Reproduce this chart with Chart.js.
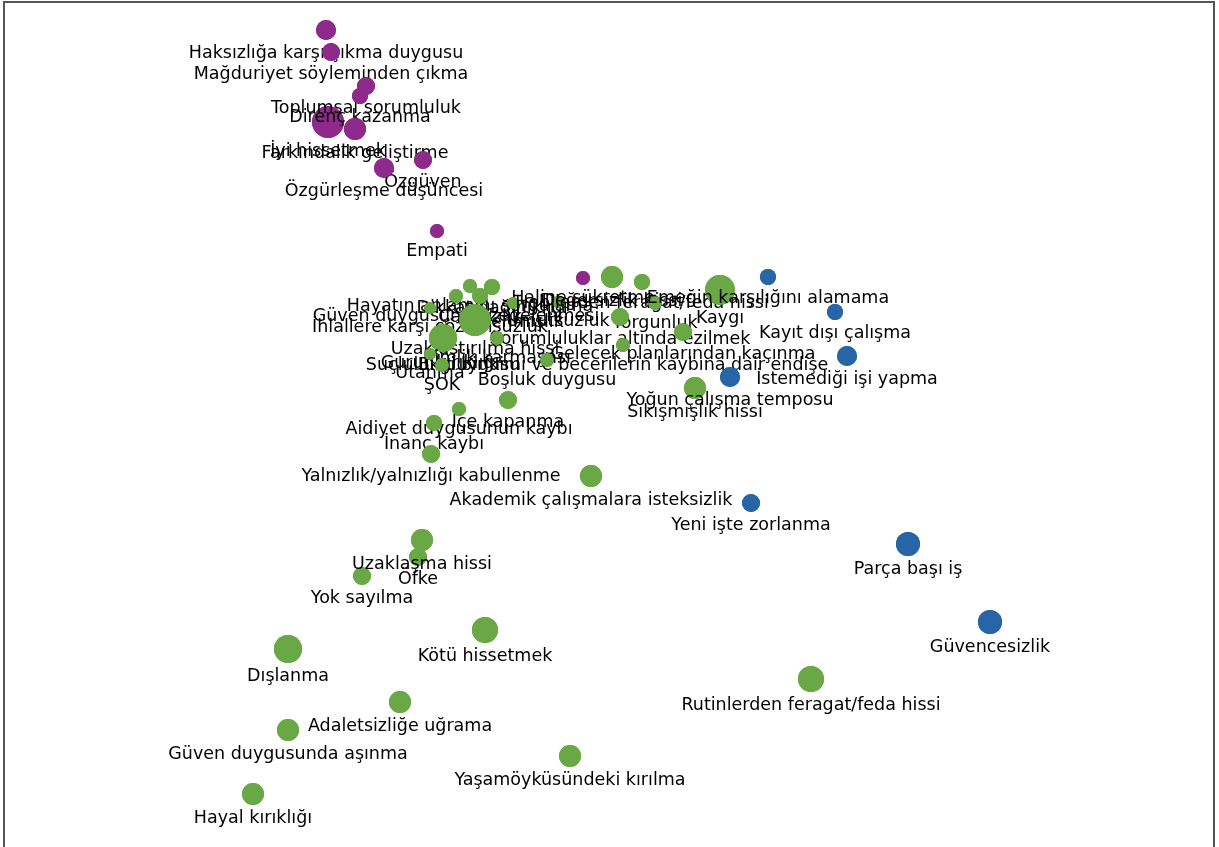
<!DOCTYPE html>
<html>
<head>
<meta charset="utf-8">
<script src="https://cdn.jsdelivr.net/npm/chart.js@4/dist/chart.umd.min.js"></script>
<style>
  body { margin: 0; background: #fff; overflow: hidden; }
  #wrap { position: absolute; left: 0; top: 0; width: 1219px; height: 847px; }
  #frame {
    position: absolute; left: 3px; top: 1px; width: 1212px; height: 900px;
    box-sizing: border-box; border: 2px solid #555; pointer-events: none;
  }
</style>
</head>
<body>
<div id="wrap"><canvas id="map" width="1219" height="847"></canvas></div>
<div id="frame"></div>
<script>
// purple group
const purpleNames = ['Haksızlığa karşı çıkma duygusu', 'Mağduriyet söyleminden çıkma', 'İyi hissetmek',
  'Toplumsal sorumluluk', 'Direnç kazanma', 'Farkındalık geliştirme', 'Özgüven',
  'Özgürleşme düşüncesi', 'Empati', 'Haline şükretme']
const purpleX = [-2.84, -2.79, -2.82, -2.44, -2.50, -2.55, -1.87, -2.26, -1.73, -0.27]
const purpleY = [3.94, 3.72, 3.02, 3.38, 3.28, 2.95, 2.64, 2.56, 1.93, 1.46]
const purpleR = [10, 9, 16, 9, 8, 11, 9, 10, 7, 7]

// green group
const greenNames = ['Hayatın anlamını sorgulama', 'Güven duygusunun zedelenmesi', 'Dikkat dağınıklığı',
  'Çaresizlik', 'İhlallere karşı çözümsüzlük', 'Tükenmişlik', 'Umutsuzluk', 'Değersizlik hissi',
  'Hobilerden feragat/feda hissi', 'Kaygı', 'Yorgunluk', 'Sorumluluklar altında ezilmek',
  'Gelecek planlarından kaçınma', 'Bilgi birikimi ve becerilerin kaybına dair endişe',
  'Gurur kırıklığı', 'Uzaklaştırılma hissi', 'Suçluluk duygusu', 'Kimlik karmaşası', 'Utanma',
  'ŞOK', 'Boşluk duygusu', 'İçe kapanma', 'Aidiyet duygusunun kaybı', 'İnanç kaybı',
  'Yalnızlık/yalnızlığı kabullenme', 'Sıkışmışlık hissi', 'Akademik çalışmalara isteksizlik',
  'Öfke', 'Yok sayılma', 'Uzaklaşma hissi', 'Dışlanma', 'Kötü hissetmek', 'Adaletsizliğe uğrama',
  'Güven duygusunda aşınma', 'Yaşamöyküsündeki kırılma', 'Hayal kırıklığı',
  'Rutinlerden feragat/feda hissi']
const greenX = [-1.40, -1.54, -1.18, -1.30, -1.80, -0.97, -0.52, 0.02, 0.32, 1.10, 0.45, 0.10,
  0.73, 0.13, -1.70, -1.35, -1.67, -1.13, -1.80, -1.68, -0.63, -1.02, -1.51, -1.76, -1.79, 0.85,
  -0.19, -1.92, -2.48, -1.88, -3.22, -1.25, -2.10, -3.22, -0.40, -3.57, 2.01]
const greenY = [1.38, 1.28, 1.37, 1.28, 1.16, 1.21, 1.22, 1.47, 1.42, 1.34, 1.21, 1.07, 0.92,
  0.79, 0.80, 1.04, 0.86, 0.86, 0.70, 0.59, 0.64, 0.24, 0.15, 0.01, -0.30, 0.36, -0.52, -1.33,
  -1.52, -1.16, -2.25, -2.06, -2.78, -3.06, -3.32, -3.70, -2.55]
const greenR = [7, 7, 8, 8, 6, 6, 6, 11, 8, 15, 7, 9, 9, 7, 6, 16, 14, 7, 6, 7, 7, 9, 7, 8, 9,
  11, 11, 9, 9, 11, 14, 13, 11, 11, 11, 11, 13]

// blue group
const blueNames = ['Emeğin karşılığını alamama', 'Kayıt dışı çalışma', 'İstemediği işi yapma',
  'Yoğun çalışma temposu', 'Yeni işte zorlanma', 'Parça başı iş', 'Güvencesizlik']
const blueX = [1.58, 2.25, 2.37, 1.20, 1.41, 2.98, 3.80]
const blueY = [1.47, 1.12, 0.68, 0.47, -0.79, -1.20, -1.98]
const blueR = [8, 8, 10, 10, 9, 12, 12]

const toPoints = (xs, ys, rs) => xs.map((x, i) => ({ x: x, y: ys[i], r: rs[i] }))

// draw each bubble again followed by its label, so later bubbles can cover earlier labels
const pointLabels = {
  id: 'pointLabels',
  afterDatasetsDraw(chart) {
    const ctx = chart.ctx
    chart.data.datasets.forEach((ds, i) => {
      const meta = chart.getDatasetMeta(i)
      meta.data.forEach((el, j) => {
        ctx.save()
        el.draw(ctx, chart.chartArea)
        ctx.restore()
        ctx.save()
        ctx.font = '17.5px "DejaVu Sans"'
        ctx.fillStyle = '#000'
        ctx.textAlign = 'center'
        ctx.textBaseline = 'middle'
        ctx.fillText(ds.names[j], el.x, el.y + el.options.radius + 13)
        ctx.restore()
      })
    })
  }
}

const ctx = document.getElementById('map').getContext('2d')
const myChart = new Chart(ctx, {
  type: 'bubble',
  data: {
    datasets: [
      { names: purpleNames, data: toPoints(purpleX, purpleY, purpleR), backgroundColor: '#8e2a8c' },
      { names: greenNames, data: toPoints(greenX, greenY, greenR), backgroundColor: '#6aa745' },
      { names: blueNames, data: toPoints(blueX, blueY, blueR), backgroundColor: '#2865a6' }
    ]
  },
  options: {
    responsive: false,
    animation: false,
    devicePixelRatio: 1,
    layout: { padding: 0 },
    elements: { point: { borderWidth: 0, hoverRadius: 0, hoverBorderWidth: 0 } },
    plugins: { legend: { display: false }, tooltip: { enabled: false } },
    scales: {
      // the bubble chart keeps 16px round the plot for the largest bubble
      x: { type: 'linear', display: false, min: -5.94, max: 5.93 },
      y: { type: 'linear', display: false, min: -4.07, max: 4.08 }
    }
  },
  plugins: [pointLabels]
})
</script>
</body>
</html>
